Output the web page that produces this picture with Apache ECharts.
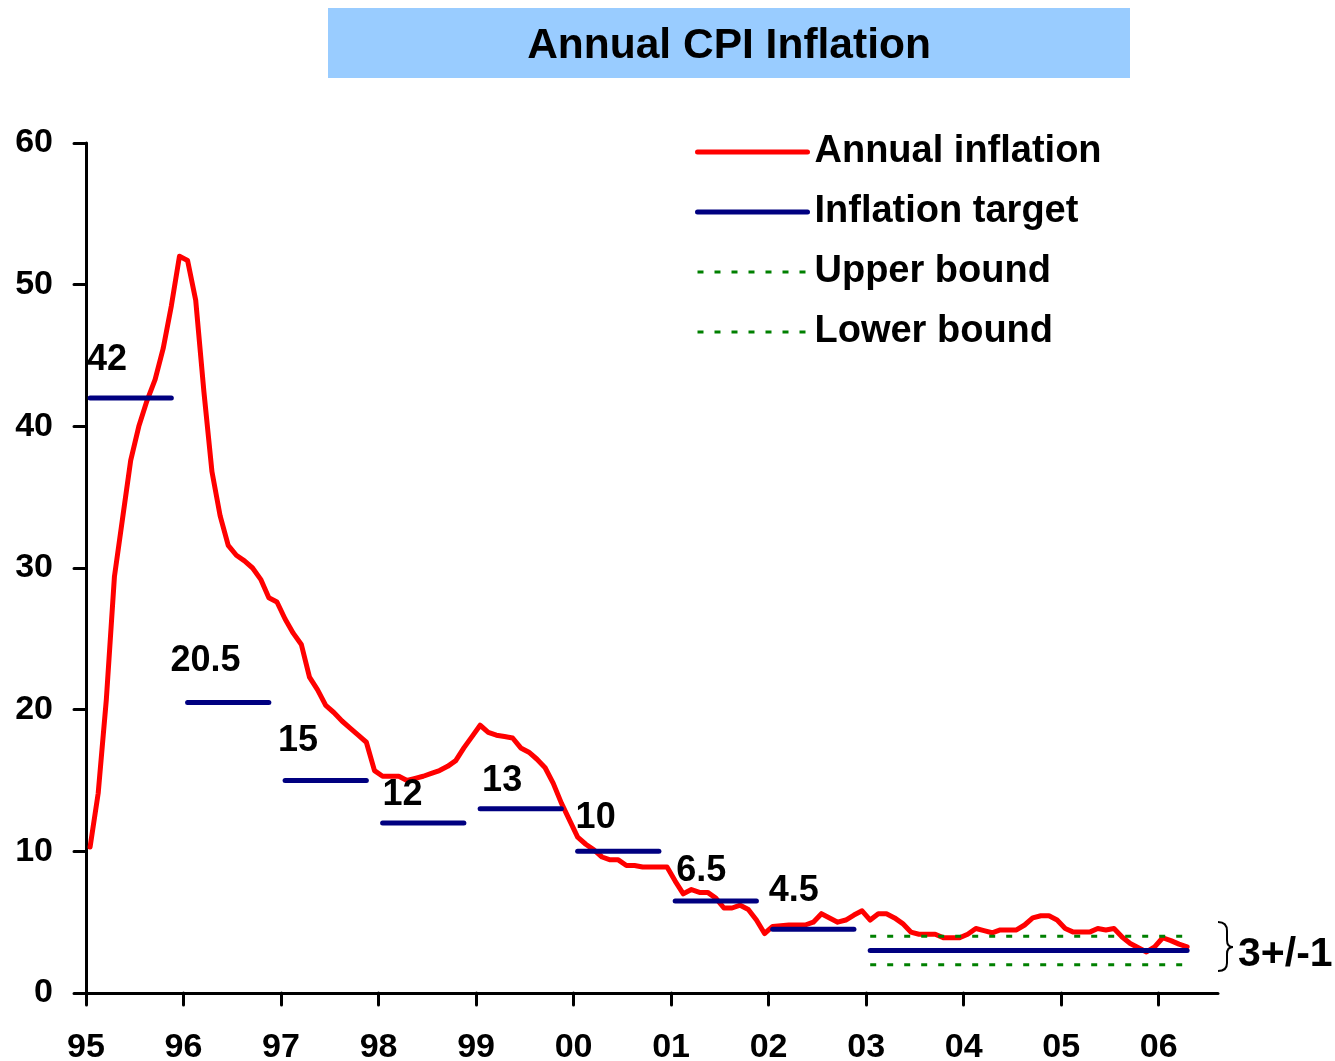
<!DOCTYPE html>
<html>
<head>
<meta charset="utf-8">
<script src="https://cdn.jsdelivr.net/npm/echarts@6/dist/echarts.min.js"></script>
<style>
html, body { margin: 0; padding: 0; background: #fff; }
#chart { width: 1335px; height: 1061px; }
</style>
</head>
<body>
<div id="chart"></div>
<script>
const chartDom = document.getElementById('chart');
const myChart = echarts.init(chartDom);

// tick labels, one per January (axis counted in months from Jan 1995)
const yearLabels = ['95', '96', '97', '98', '99', '00', '01', '02', '03', '04', '05', '06'];

// annual CPI inflation, monthly, Jan 1995 .. Apr 2006 (%)
const inflation = [
    10.3, 14.1, 20.7, 29.4, 33.5, 37.6, 40.0, 41.8, 43.3, 45.5, 48.5, 52.0,
    51.7, 48.9, 42.5, 36.8, 33.7, 31.6, 30.9, 30.5, 30.0, 29.2, 27.9, 27.6,
    26.4, 25.4, 24.6, 22.3, 21.4, 20.3, 19.8, 19.2, 18.7, 18.2, 17.7, 15.7,
    15.3, 15.3, 15.3, 15.0, 15.15, 15.3, 15.5, 15.7, 16.0, 16.4, 17.3, 18.1,
    18.9, 18.4, 18.2, 18.1, 18.0, 17.3, 17.0, 16.5, 15.9, 14.8, 13.4, 12.2,
    11.0, 10.5, 10.1, 9.6, 9.4, 9.4, 9.0, 9.0, 8.9, 8.9, 8.9, 8.9,
    7.9, 7.0, 7.3, 7.1, 7.1, 6.7, 6.0, 6.0, 6.2, 5.9, 5.15, 4.2,
    4.7, 4.75, 4.8, 4.8, 4.8, 5.0, 5.6, 5.3, 5.0, 5.15, 5.5, 5.8,
    5.15, 5.6, 5.6, 5.3, 4.9, 4.3, 4.15, 4.15, 4.15, 3.9, 3.9, 3.9,
    4.15, 4.55, 4.4, 4.25, 4.45, 4.45, 4.45, 4.8, 5.3, 5.45, 5.45, 5.15,
    4.55, 4.3, 4.3, 4.3, 4.55, 4.45, 4.55, 3.95, 3.5, 3.2, 2.9, 3.25,
    3.9, 3.7, 3.45, 3.25
];

// inflation targets and the months they are drawn over
const targetValues = [42, 20.5, 15, 12, 13, 10, 6.5, 4.5, 3];
const targetStart = [0, 12, 24, 36, 48, 60, 72, 84, 96];
const targetEnd = [10, 22, 34, 46, 58, 70, 82, 94, 135];

// tolerance band around the 3% target
const upperBound = 4;
const lowerBound = 2;
const bandStart = 96;
const bandEnd = 135;

// where each target's number sits relative to the start of its line (px)
const labelOffsets = [[17, -38], [18, -42], [13, -39], [20, -28], [22, -28], [18, -33], [26, -30], [21, -38]];

const FONT = '"Liberation Sans", Arial, sans-serif';
const RED = '#ff0000', NAVY = '#000080', GREEN = '#008000';
const mid = m => m + 0.5; // points sit in the middle of their month

const series = [];
series.push({
    name: 'Annual inflation',
    type: 'line',
    symbol: 'none',
    data: inflation.map((v, i) => [mid(i), v]),
    lineStyle: { color: RED, width: 5, cap: 'round', join: 'round' },
    itemStyle: { color: RED },
    z: 2
});

targetValues.forEach(function (t, k) {
    const first = { value: [mid(targetStart[k]), t] };
    if (k < labelOffsets.length) {
        first.label = { show: true, offset: labelOffsets[k] };
    }
    series.push({
        name: 'Inflation target',
        type: 'line',
        symbol: 'circle',
        symbolSize: 0,
        showSymbol: true,
        data: [first, [mid(targetEnd[k]), t]],
        lineStyle: { color: NAVY, width: 5, cap: 'round' },
        itemStyle: { color: NAVY },
        label: {
            show: false,
            position: 'inside',
            formatter: p => String(p.value[1]),
            fontFamily: FONT,
            fontSize: 36,
            fontWeight: 'bold',
            color: '#000'
        },
        z: 3
    });
});

[['Upper bound', upperBound], ['Lower bound', lowerBound]].forEach(function (b) {
    series.push({
        name: b[0],
        type: 'line',
        symbol: 'none',
        data: [[mid(bandStart), b[1]], [mid(bandEnd), b[1]]],
        lineStyle: { color: GREEN, width: 3, type: [6, 11] },
        itemStyle: { color: GREEN },
        z: 2
    });
});

const yearTicks = yearLabels.map((s, i) => i * 12);

// the curly brace beside the tolerance band
const braceStyle = { fill: 'none', stroke: '#000', lineWidth: 2 };
const brace = [
    { type: 'bezierCurve', shape: { x1: 1218, y1: 922, cpx1: 1227, cpy1: 922, x2: 1227, y2: 931 }, style: braceStyle },
    { type: 'line', shape: { x1: 1227, y1: 931, x2: 1227, y2: 940 }, style: braceStyle },
    { type: 'bezierCurve', shape: { x1: 1227, y1: 940, cpx1: 1227, cpy1: 947, x2: 1233, y2: 947 }, style: braceStyle },
    { type: 'bezierCurve', shape: { x1: 1233, y1: 947, cpx1: 1227, cpy1: 947, x2: 1227, y2: 954 }, style: braceStyle },
    { type: 'line', shape: { x1: 1227, y1: 954, x2: 1227, y2: 963 }, style: braceStyle },
    { type: 'bezierCurve', shape: { x1: 1227, y1: 963, cpx1: 1227, cpy1: 971, x2: 1218, y2: 971 }, style: braceStyle }
];

const option = {
    animation: false,
    backgroundColor: '#fff',
    grid: { left: 86, right: 117, top: 143, bottom: 68, containLabel: false, outerBoundsMode: 'none' },
    legend: {
        data: [
            { name: 'Annual inflation', lineStyle: { width: 5, cap: 'round' } },
            { name: 'Inflation target', lineStyle: { width: 5, cap: 'round' } },
            { name: 'Upper bound', lineStyle: { width: 3, type: [6, 11] } },
            { name: 'Lower bound', lineStyle: { width: 3, type: [6, 11] } }
        ],
        orient: 'vertical',
        left: 695,
        top: 132,
        padding: 0,
        itemWidth: 110,
        itemHeight: 20,
        itemGap: 20,
        itemStyle: { opacity: 0 },
        textStyle: {
            fontFamily: FONT,
            fontSize: 38,
            fontWeight: 'bold',
            color: '#000',
            lineHeight: 40,
            padding: [0, 0, 0, 2]
        }
    },
    xAxis: {
        type: 'value',
        min: 0,
        max: 139.3,
        splitLine: { show: false },
        axisLine: { lineStyle: { color: '#000', width: 3 } },
        axisTick: {
            show: true,
            length: 12,
            customValues: yearTicks,
            lineStyle: { color: '#000', width: 3, cap: 'round' }
        },
        axisLabel: {
            customValues: yearTicks,
            margin: 38,
            formatter: v => yearLabels[Math.round(v / 12)],
            fontFamily: FONT,
            fontSize: 34,
            fontWeight: 'bold',
            color: '#000'
        }
    },
    yAxis: {
        type: 'value',
        min: 0,
        max: 60,
        interval: 10,
        splitLine: { show: false },
        axisLine: { show: true, lineStyle: { color: '#000', width: 3 } },
        axisTick: { show: true, length: 12, lineStyle: { color: '#000', width: 3, cap: 'round' } },
        axisLabel: {
            margin: 33,
            fontFamily: FONT,
            fontSize: 34,
            fontWeight: 'bold',
            color: '#000'
        }
    },
    graphic: [
        {
            type: 'rect',
            shape: { x: 328, y: 8, width: 802, height: 70 },
            style: { fill: '#99ccff' },
            z: 0
        },
        {
            type: 'text',
            x: 729,
            y: 46,
            style: {
                text: 'Annual CPI Inflation',
                font: 'bold 42.5px ' + FONT,
                fill: '#000',
                align: 'center',
                verticalAlign: 'middle'
            },
            z: 1
        },
        {
            type: 'group',
            children: brace
        },
        {
            type: 'text',
            x: 1238,
            y: 955,
            style: {
                text: '3+/-1',
                font: 'bold 41px ' + FONT,
                fill: '#000',
                align: 'left',
                verticalAlign: 'middle'
            }
        }
    ],
    series: series
};

myChart.setOption(option);
</script>
</body>
</html>
